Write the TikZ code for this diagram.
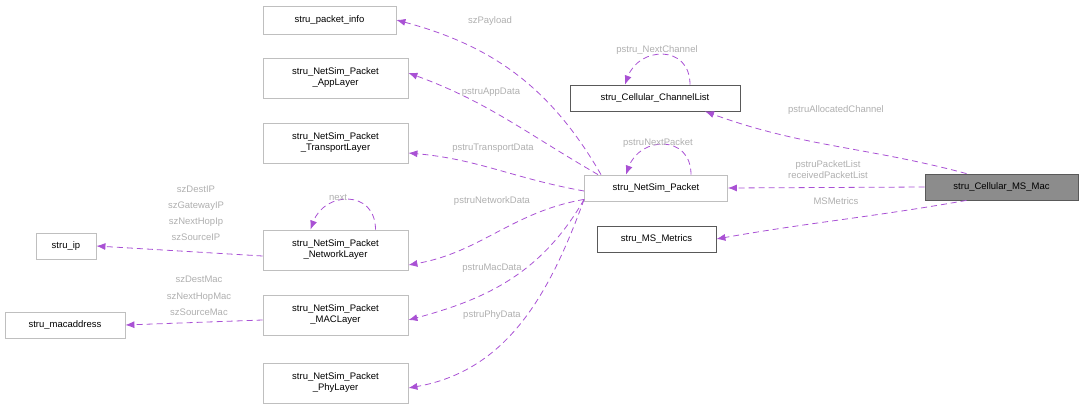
\documentclass[tikz,border=0pt]{standalone}
\usepackage{fontspec}
\setmainfont{Liberation Sans}
\usetikzlibrary{positioning, arrows.meta}
\definecolor{EdgePurple}{RGB}{154, 50, 205}
\definecolor{LabelGrey}{RGB}{175, 175, 175}
\definecolor{BoxGrey}{RGB}{191, 191, 191}

\begin{document}
\begin{tikzpicture}[x=1pt, y=-1pt,
    box/.style={draw=BoxGrey, thick, fill=white, font=\fontsize{9.5}{11}\selectfont,
        align=center, inner sep=0pt},
    darkbox/.style={box, draw=black!65},
    rel/.style={EdgePurple!85, dashed, dash pattern=on 6pt off 4pt, thick,
        -{Latex[length=9pt, width=7pt]}},
    lab/.style={LabelGrey, font=\fontsize{9.5}{11}\selectfont, align=center, inner sep=0pt}]
    % Marco
    \useasboundingbox (0,0) rectangle (1084,411);

    % Nodos
    \node[box, minimum width=133pt, minimum height=28pt] (info) at (329.5,20) {stru\_packet\_info};
    \node[box, minimum width=145pt, minimum height=40pt] (app) at (335.5,78) {stru\_NetSim\_Packet\\\_AppLayer};
    \node[box, minimum width=145pt, minimum height=40pt] (trans) at (335.5,143) {stru\_NetSim\_Packet\\\_TransportLayer};
    \node[box, minimum width=145pt, minimum height=40pt] (net) at (335.5,250) {stru\_NetSim\_Packet\\\_NetworkLayer};
    \node[box, minimum width=145pt, minimum height=40pt] (mac) at (335.5,315) {stru\_NetSim\_Packet\\\_MACLayer};
    \node[box, minimum width=145pt, minimum height=40pt] (phy) at (335.5,383) {stru\_NetSim\_Packet\\\_PhyLayer};
    \node[box, minimum width=60pt, minimum height=26pt] (ip) at (66,246) {stru\_ip};
    \node[box, minimum width=120pt, minimum height=26pt] (macaddr) at (65,325) {stru\_macaddress};
    \node[darkbox, minimum width=170pt, minimum height=26pt] (chan) at (655,98) {stru\_Cellular\_ChannelList};
    \node[box, minimum width=143pt, minimum height=26pt] (pkt) at (656,188) {stru\_NetSim\_Packet};
    \node[darkbox, minimum width=119pt, minimum height=26pt] (metrics) at (656.5,239) {stru\_MS\_Metrics};
    \node[darkbox, fill=black!45, minimum width=153pt, minimum height=26pt] (ms) at (1001.5,187) {stru\_Cellular\_MS\_Mac};

    % Relaciones desde MS_Mac
    \draw[rel] ([xshift=-35pt]ms.north) to[out=165, in=-20] ([xshift=50pt]chan.south);
    \draw[rel] (ms.west) -- (pkt.east);
    \draw[rel] ([xshift=-35pt]ms.south) to[out=-170, in=10] (metrics.east);

    % Auto-referencias
    \draw[rel] ([xshift=35pt]chan.north) to[out=90, in=70, looseness=1.6] ([xshift=-30pt]chan.north);
    \draw[rel] ([xshift=35pt]pkt.north) to[out=90, in=70, looseness=1.6] ([xshift=-30pt]pkt.north);
    \draw[rel] ([xshift=40pt]net.north) to[out=90, in=70, looseness=1.6] ([xshift=-25pt]net.north);

    % Relaciones desde NetSim_Packet
    \draw[rel] ([xshift=-55pt]pkt.north) to[out=120, in=-15] (info.east);
    \draw[rel] ([xshift=-58pt]pkt.north) to[out=150, in=-20] ([yshift=5pt]app.east);
    \draw[rel] ([yshift=-3pt]pkt.west) to[out=170, in=-5] ([yshift=-10pt]trans.east);
    \draw[rel] ([yshift=2pt]pkt.south west) to[out=-170, in=10] ([yshift=-15pt]net.east);
    \draw[rel] ([yshift=2pt]pkt.south west) to[out=-120, in=15] ([yshift=-5pt]mac.east);
    \draw[rel] ([yshift=2pt]pkt.south west) to[out=-110, in=10] ([yshift=-5pt]phy.east);

    % Campos hacia direcciones
    \draw[rel] ([yshift=-6pt]net.west) -- (ip.east);
    \draw[rel] ([yshift=-5pt]mac.west) -- (macaddr.east);

    % Etiquetas
    \node[lab] (lpay) at (490,21) {szPayload};
    \node[lab] (lapp) at (491,92) {pstruAppData};
    \node[lab] (ltra) at (493,148) {pstruTransportData};
    \node[lab] (lnet) at (492,201) {pstruNetworkData};
    \node[lab] (lmac) at (492,268) {pstruMacData};
    \node[lab] (lphy) at (492,315) {pstruPhyData};
    \node[lab] (lnch) at (657,50) {pstru\_NextChannel};
    \node[lab] (lall) at (836,110) {pstruAllocatedChannel};
    \node[lab] (lnpk) at (658,143) {pstruNextPacket};
    \node[lab] (llst) at (828,170) {pstruPacketList\\receivedPacketList};
    \node[lab] (lmet) at (836,201) {MSMetrics};
    \node[lab] (lnxt) at (338,197) {next};
    \node[lab, font=\fontsize{9.5}{16}\selectfont] (lip) at (196,213) {szDestIP\\szGatewayIP\\szNextHopIp\\szSourceIP};
    \node[lab, font=\fontsize{9.5}{16.5}\selectfont] (lmc) at (199,296) {szDestMac\\szNextHopMac\\szSourceMac};
\end{tikzpicture}
\end{document}
